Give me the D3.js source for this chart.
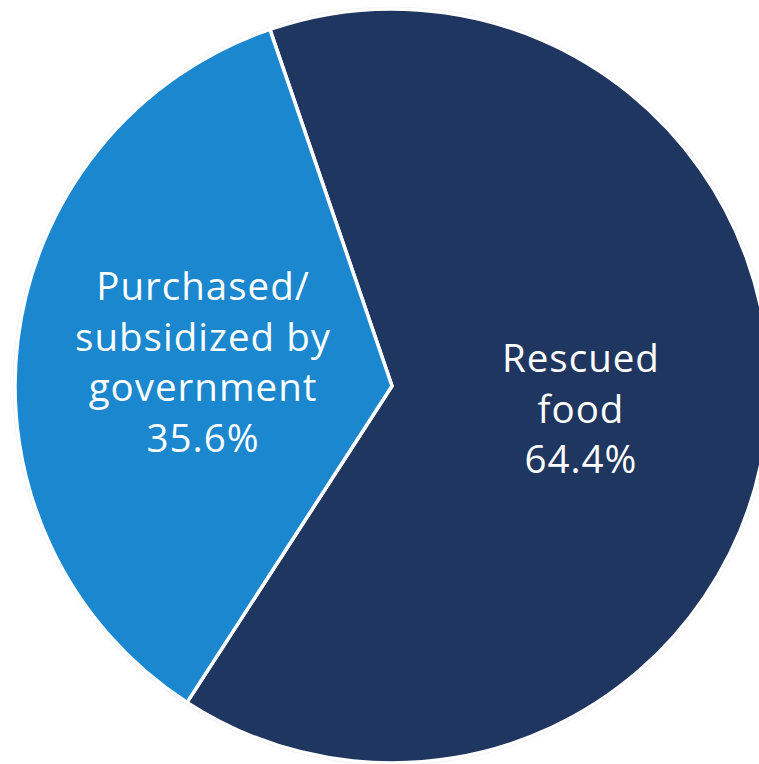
<!DOCTYPE html>
<html>
<head>
<meta charset="utf-8">
<script src="https://cdn.jsdelivr.net/npm/d3@7/dist/d3.min.js"></script>
<style>
  html, body { margin: 0; padding: 0; background: #ffffff; overflow: hidden; }
  svg { display: block; }
</style>
</head>
<body>
<svg id="chart" width="759" height="764"></svg>
<script>
// Sources of food distributed (share of total)
const categories = ["Rescued food", "Purchased/ subsidized by government"];
const labelLines = [["Rescued", "food"], ["Purchased/", "subsidized by", "government"]];
const values = [64.4, 35.6];
const colors = ["#1f3660", "#1a87cf"];

const width = 759, height = 764;
const cx = 392, cy = 386, radius = 377;
const startDeg = -18.9;

const svg = d3.select("#chart");
const g = svg.append("g").attr("transform", `translate(${cx},${cy})`);

const pie = d3.pie()
  .sort(null)
  .value(d => d.value)
  .startAngle(startDeg * Math.PI / 180)
  .endAngle(startDeg * Math.PI / 180 + 2 * Math.PI);

const data = categories.map((c, i) => ({ name: c, value: values[i], lines: labelLines[i], color: colors[i] }));
const arcs = pie(data);

const arc = d3.arc().innerRadius(0).outerRadius(radius);
const labelArc = d3.arc().innerRadius(radius * 0.505).outerRadius(radius * 0.505);

// faint rim around the pie
g.append("circle")
  .attr("r", radius + 1)
  .attr("fill", "none")
  .attr("stroke", "#ececf0")
  .attr("stroke-width", 2.5);

g.selectAll("path.slice")
  .data(arcs)
  .join("path")
  .attr("class", "slice")
  .attr("d", arc)
  .attr("fill", d => d.data.color)
  .attr("stroke", "#ffffff")
  .attr("stroke-width", 3.5)
  .attr("stroke-linejoin", "miter");

const fontSize = 38.5, lineH = 50.5;
const fmt = d3.format(".1f");

arcs.forEach(a => {
  const [lx, ly] = labelArc.centroid(a);
  const lines = a.data.lines.concat([fmt(a.data.value) + "%"]);
  const n = lines.length;
  const text = g.append("text")
    .attr("text-anchor", "middle")
    .attr("fill", "#ffffff")
    .style("font-family", "'Open Sans', sans-serif")
    .style("font-size", fontSize + "px")
    .style("letter-spacing", "1px");
  lines.forEach((line, i) => {
    text.append("tspan")
      .attr("x", lx)
      .attr("y", ly - (n - 1) / 2 * lineH + i * lineH + 13.5)
      .text(line);
  });
});
</script>
</body>
</html>
